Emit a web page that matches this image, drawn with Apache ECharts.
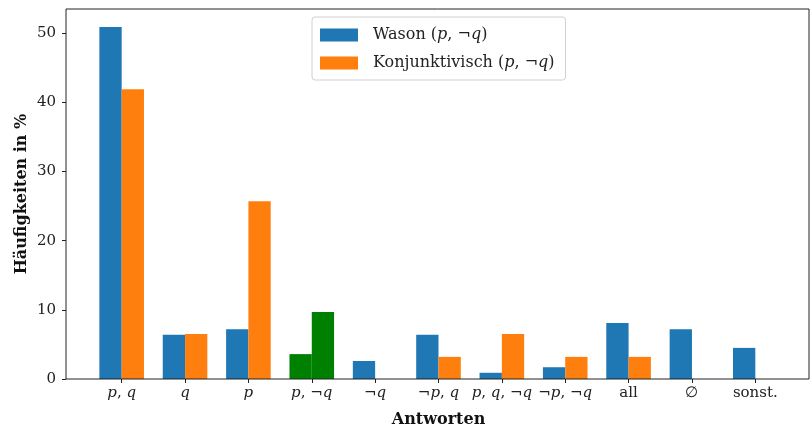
<!DOCTYPE html>
<html>
<head>
<meta charset="utf-8">
<script src="https://cdn.jsdelivr.net/npm/echarts@6/dist/echarts.min.js"></script>
<style>html,body{margin:0;padding:0;background:#fff}#c{width:811px;height:435px}</style>
</head>
<body>
<div id="c"></div>
<script>
const categories = ["p, q", "q", "p", "p, ¬q", "¬q", "¬p, q", "p, q, ¬q", "¬p, ¬q", "all", "∅", "sonst."];
const wason = [50.9, 6.4, 7.2, 3.6, 2.6, 6.4, 0.9, 1.7, 8.1, 7.2, 4.5];
const konjunktivisch = [41.9, 6.5, 25.7, 9.7, 0, 3.2, 6.5, 3.2, 3.2, 0, 0];
const highlightCategory = "p, ¬q";
const yTicks = [0, 10, 20, 30, 40, 50];

const FONT = '"DejaVu Serif", "Liberation Serif", serif';
const BLUE = '#1f77b4', ORANGE = '#ff7f0e', GREEN = '#008000';

function italicPQ(s) { return s.replace(/[pq]/g, m => '{i|' + m + '}'); }
function mathify(s) {
  return /^[¬pq, ]+$/.test(s) ? italicPQ(s) : s;
}
function colored(arr) {
  return arr.map((v, i) => categories[i] === highlightCategory
    ? { value: v, itemStyle: { color: GREEN } } : v);
}

const chart = echarts.init(document.getElementById('c'), null, { renderer: 'canvas' });
chart.setOption({
  backgroundColor: '#fff',
  animation: false,
  textStyle: { fontFamily: FONT },
  grid: [
    { left: 90, right: 24, top: 9, bottom: 56, outerBoundsMode: 'none', containLabel: false },
    { left: 66, right: 2, top: 9, bottom: 56, outerBoundsMode: 'none', containLabel: false,
      show: true, borderColor: '#222', borderWidth: 1, backgroundColor: 'transparent', z: 5 }
  ],
  legend: {
    orient: 'vertical',
    left: 312, top: 17,
    itemWidth: 38, itemHeight: 13, itemGap: 12,
    padding: [10, 11, 9, 8],
    backgroundColor: '#fff',
    borderColor: '#d0d0d0', borderWidth: 1, borderRadius: 3,
    icon: 'rect',
    textStyle: {
      fontFamily: FONT, fontSize: 16, color: '#222', padding: [0, 0, 0, 10],
      rich: { i: { fontFamily: FONT, fontStyle: 'italic', fontSize: 16, color: '#222' } }
    },
    formatter: name => name.replace(/\(([^)]*)\)/, (m, inner) => '(' + italicPQ(inner) + ')'),
    data: [
      { name: 'Wason (p, ¬q)', itemStyle: { color: BLUE } },
      { name: 'Konjunktivisch (p, ¬q)', itemStyle: { color: ORANGE } }
    ]
  },
  xAxis: [
    {
      type: 'category', gridIndex: 0, data: categories,
      boundaryGap: true,
      axisLine: { show: false },
      axisTick: { show: true, alignWithLabel: true, length: 4, lineStyle: { color: '#222' } },
      axisLabel: {
        fontFamily: FONT, fontSize: 15, color: '#222', margin: 7, interval: 0,
        formatter: v => mathify(v),
        rich: { i: { fontFamily: FONT, fontStyle: 'italic', fontSize: 15, color: '#222' } }
      },
      name: 'Antworten', nameLocation: 'middle', nameGap: 33, nameMoveOverlap: false,
      nameTextStyle: { fontFamily: FONT, fontSize: 16, fontWeight: 'bold', color: '#111' }
    },
    { type: 'value', gridIndex: 1, show: false, min: 0, max: 1 }
  ],
  yAxis: [
    {
      type: 'value', gridIndex: 0, min: 0, max: 53.5, interval: 10,
      offset: 24,
      splitLine: { show: false },
      axisLine: { show: false },
      axisTick: { show: true, length: 4, lineStyle: { color: '#222' } },
      axisLabel: {
        fontFamily: FONT, fontSize: 15, color: '#222', margin: 10, showMaxLabel: false,
        formatter: v => yTicks.includes(v) ? String(v) : ''
      },
      name: 'Häufigkeiten in %', nameLocation: 'middle', nameGap: 36, nameRotate: 90, nameMoveOverlap: false,
      nameTextStyle: { fontFamily: FONT, fontSize: 16, fontWeight: 'bold', color: '#111' }
    },
    { type: 'value', gridIndex: 1, show: false, min: 0, max: 1 }
  ],
  series: [
    {
      name: 'Wason (p, ¬q)', type: 'bar', xAxisIndex: 0, yAxisIndex: 0,
      data: colored(wason), barWidth: 22.3, barGap: '0%',
      itemStyle: { color: BLUE }
    },
    {
      name: 'Konjunktivisch (p, ¬q)', type: 'bar', xAxisIndex: 0, yAxisIndex: 0,
      data: colored(konjunktivisch), barWidth: 22.3, barGap: '0%',
      itemStyle: { color: ORANGE }
    }
  ]
});
</script>
</body>
</html>
